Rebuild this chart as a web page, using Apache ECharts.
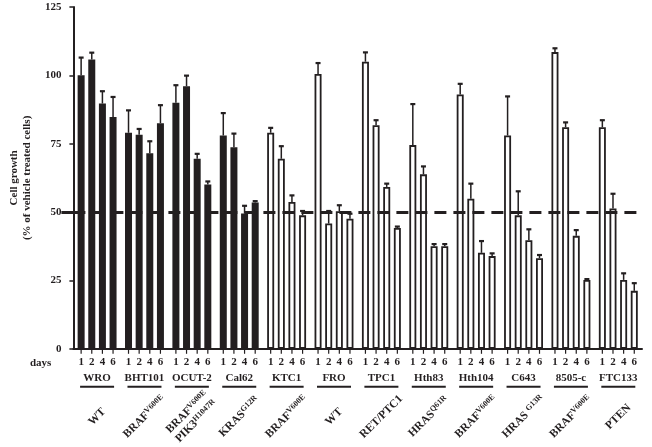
<!DOCTYPE html>
<html>
<head>
<meta charset="utf-8">
<script src="https://cdn.jsdelivr.net/npm/echarts@6/dist/echarts.min.js"></script>
<style>
  html, body { margin: 0; background: #fff; }
  #chart { width: 652px; height: 447px; }
</style>
</head>
<body>
<div id="chart"></div>
<script>
// cell lines, in plot order
const cellLines = ['WRO', 'BHT101', 'OCUT-2', 'Cal62', 'KTC1', 'FRO', 'TPC1', 'Hth83', 'Hth104', 'C643', '8505-c', 'FTC133']
const days = ['1', '2', '4', '6']
// mutation label under each cell line: gene names and their superscript variants
const mutationGenes = [['WT'], ['BRAF'], ['BRAF', 'PIK3'], ['KRAS'], ['BRAF'], ['WT'], ['RET/PTC1'], ['HRAS'], ['BRAF'], ['HRAS '], ['BRAF'], ['PTEN']]
const mutationVariants = [[''], ['V600E'], ['V600E', 'H1047R'], ['G12R'], ['V600E'], [''], [''], ['Q61R'], ['V600E'], ['G13R'], ['V600E'], ['']]
// first N cell lines are drawn as filled bars
const filledCount = 4

// cell growth (% of vehicle) per day, one value per cell line
const growthDay1 = [100, 79, 90, 78, 79, 100.5, 105, 74.5, 93, 78, 108.5, 81]
const growthDay2 = [105.8, 78.3, 96, 73.7, 69.5, 45.8, 81.8, 63.8, 54.9, 48.8, 81, 51.3]
const growthDay4 = [89.7, 71.5, 69.5, 49.5, 53.7, 50.3, 59.2, 37.5, 35.1, 39.7, 41.3, 25.2]
const growthDay6 = [84.8, 82.5, 60.1, 53.5, 48.8, 47.6, 44.2, 37.5, 33.9, 33.1, 25.2, 21.2]
// upper error (SD)
const errDay1 = [6.5, 8.2, 6.4, 8.2, 1.8, 4, 3.4, 15, 3.9, 14.3, 1.4, 2.6]
const errDay2 = [2.5, 2.1, 3.9, 5, 4.6, 4.6, 1.8, 2.9, 5.5, 8.8, 1.8, 5.4]
const errDay4 = [4.5, 4.4, 1.8, 2.8, 2.4, 2.2, 1.2, 0.8, 4.3, 4, 2.1, 2.4]
const errDay6 = [7.3, 6.6, 1.1, 0.5, 1.6, 1.8, 0.5, 0.8, 1, 1.2, 0.3, 2.8]

const yTicks = [0, 25, 50, 75, 100, 125]
const threshold = 50

const growth = [growthDay1, growthDay2, growthDay4, growthDay6]
const errors = [errDay1, errDay2, errDay4, errDay6]

const ink = '#231f20'
const font = '"Liberation Serif", "DejaVu Serif", serif'
const barWidth = 7
const barGap = 0.52
const barPitch = barWidth * (1 + barGap)

const chart = echarts.init(document.getElementById('chart'), null, { renderer: 'canvas' })

const barSeries = days.map((day, d) => {
  const s = {
    name: day,
    type: 'bar',
    barWidth: barWidth,
    barGap: (barGap * 100) + '%',
    data: growth[d].map((v, g) => ({
      value: v,
      itemStyle: { color: g < filledCount ? ink : '#fff' }
    })),
    itemStyle: { borderColor: ink, borderWidth: 1.8 },
    label: {
      show: true,
      position: ['50%', '100%'],
      align: 'center',
      verticalAlign: 'top',
      offset: [0, 1],
      formatter: '{t|}\n{n|' + day + '}',
      rich: {
        t: { width: 1.2, height: 4, lineHeight: 4, backgroundColor: ink },
        n: { fontFamily: font, fontWeight: 'bold', fontSize: 11, color: ink, lineHeight: 14, padding: [3, 0, 0, 0] }
      }
    },
    silent: true,
    z: 2
  }
  if (d === 0) {
    s.markLine = {
      silent: true,
      symbol: 'none',
      label: { show: false },
      lineStyle: { color: ink, width: 3, type: [12, 7] },
      data: [{ yAxis: threshold }],
      z: 5
    }
  }
  return s
})

const errorData = []
growth.forEach((vals, d) => {
  vals.forEach((v, g) => errorData.push([g, v, errors[d][g], d]))
})

const option = {
  backgroundColor: '#fff',
  animation: false,
  grid: { left: 54, right: 10, top: 7, bottom: 96, containLabel: false },
  xAxis: [
    {
      type: 'category',
      data: cellLines,
      name: 'days',
      nameLocation: 'start',
      nameGap: 22,
      nameTextStyle: { fontFamily: font, fontWeight: 'bold', fontSize: 11, color: ink, verticalAlign: 'top', padding: [9, 0, 0, 0] },
      axisLine: { lineStyle: { color: ink, width: 2 } },
      axisTick: { show: false },
      axisLabel: {
        interval: 0,
        margin: 22,
        formatter: (name) => '{g|' + name + '}\n{u|}',
        rich: {
          g: { fontFamily: font, fontWeight: 'bold', fontSize: 11, color: ink, lineHeight: 15 },
          u: { width: 34, height: 2, backgroundColor: ink }
        }
      }
    },
    {
      type: 'category',
      data: cellLines,
      position: 'bottom',
      axisLine: { show: false },
      axisTick: { show: false },
      axisLabel: {
        interval: 0,
        rotate: 45,
        margin: 68,
        align: 'center',
        verticalAlign: 'middle',
        formatter: (name, i) => mutationGenes[i].map((gene, k) =>
          '{b|' + gene + '}' + (mutationVariants[i][k] ? '{s|' + mutationVariants[i][k] + '}' : '')
        ).join('\n'),
        rich: {
          b: { fontFamily: font, fontWeight: 'bold', fontSize: 11.5, color: ink, lineHeight: 13 },
          s: { fontFamily: font, fontWeight: 'bold', fontSize: 8, color: ink, lineHeight: 13, verticalAlign: 'top' }
        }
      }
    }
  ],
  yAxis: [
    {
      type: 'value',
      min: yTicks[0],
      max: yTicks[yTicks.length - 1],
      interval: yTicks[1] - yTicks[0],
      name: 'Cell growth\n(% of vehicle treated cells)',
      nameLocation: 'middle',
      nameGap: 32,
      nameTextStyle: { fontFamily: font, fontWeight: 'bold', fontSize: 11, color: ink, lineHeight: 13 },
      axisLine: { show: true, lineStyle: { color: ink, width: 2 } },
      axisTick: { show: true, length: 4, lineStyle: { color: ink, width: 1.5 } },
      splitLine: { show: false },
      axisLabel: { fontFamily: font, fontWeight: 'bold', fontSize: 11, color: ink, margin: 12 }
    },
    {
      type: 'value',
      min: yTicks[0],
      max: yTicks[yTicks.length - 1],
      position: 'left',
      axisLine: { show: false },
      axisLabel: { show: false },
      splitLine: { show: false },
      axisTick: { show: true, length: 12, customValues: [threshold], lineStyle: { color: ink, width: 3 } }
    }
  ],
  series: barSeries.concat([
    {
      type: 'custom',
      xAxisIndex: 0,
      yAxisIndex: 0,
      silent: true,
      z: 3,
      encode: { x: 0, y: 1 },
      data: errorData,
      renderItem: (params, api) => {
        const g = api.value(0)
        const v = api.value(1)
        const e = api.value(2)
        const d = api.value(3)
        const base = api.coord([g, v])
        const tip = api.coord([g, v + e])
        const x = base[0] + (d - 1.5) * barPitch
        return {
          type: 'group',
          children: [
            { type: 'line', shape: { x1: x, y1: base[1], x2: x, y2: tip[1] }, style: { stroke: ink, lineWidth: 1.5 } },
            { type: 'line', shape: { x1: x - 2.5, y1: tip[1], x2: x + 2.5, y2: tip[1] }, style: { stroke: ink, lineWidth: 2.2 } }
          ]
        }
      }
    }
  ])
}

chart.setOption(option)
</script>
</body>
</html>
